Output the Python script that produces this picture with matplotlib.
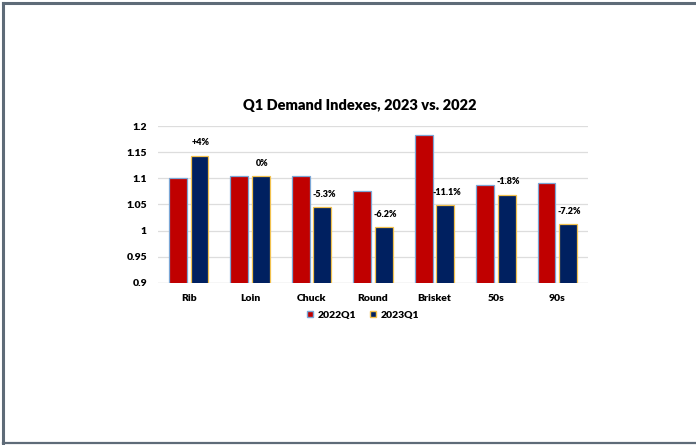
# Q1 demand indexes, 2023 vs 2022, grouped bars with change labels

import numpy as np
import matplotlib.pyplot as plt
from matplotlib.lines import Line2D

cuts = ['Rib', 'Loin', 'Chuck', 'Round', 'Brisket', '50s', '90s']
q1_2022 = [1.100, 1.105, 1.104, 1.075, 1.182, 1.088, 1.091]
q1_2023 = [1.143, 1.104, 1.045, 1.007, 1.049, 1.069, 1.013]
change_labels = ['+4%', '0%', '-5.3%', '-6.2%', '-11.1%', '-1.8%', '-7.2%']
yticks = [0.9, 0.95, 1, 1.05, 1.1, 1.15, 1.2]

plt.rcParams['font.family'] = ['Lato', 'DejaVu Sans']

fig = plt.figure(figsize=(6.96, 4.45), dpi=100)
ax = fig.add_axes([158/696, 1 - 283/445, 430/696, 157/445])

x = np.arange(len(cuts))
w = 0.29
ax.bar(x - 0.175, q1_2022, w, bottom=0, color='#C00000', edgecolor='#7BA7D6',
       linewidth=0.9, label='2022Q1', zorder=3)
ax.bar(x + 0.175, q1_2023, w, bottom=0, color='#002060', edgecolor='#F2C14E',
       linewidth=0.9, label='2023Q1', zorder=3)

for xi, v, lab in zip(x, q1_2023, change_labels):
    ax.annotate(lab, (xi + 0.2, v), xytext=(0, 6), textcoords='offset points',
                ha='center', va='bottom', fontsize=6.5, fontweight='heavy')

ax.set_ylim(0.9, 1.2)
ax.set_xlim(-0.5, len(cuts) - 0.5)
ax.set_yticks(yticks)
ax.set_yticklabels([f'{t:g}' for t in yticks], fontsize=7.5, fontweight='heavy')
ax.set_xticks(x)
ax.set_xticklabels(cuts, fontsize=7.5, fontweight='heavy')
ax.tick_params(length=0, pad=8)
ax.yaxis.grid(True, color='#DDDDDD', linewidth=0.9, zorder=0)
for s in ax.spines.values():
    s.set_visible(False)
ax.axhline(0.9, color='#D9D9D9', linewidth=0.9, zorder=1)

fig.text(360/696, 1 - 105/445, 'Q1 Demand Indexes, 2023 vs. 2022',
         ha='center', va='center', fontsize=10.5, fontweight='heavy')

handles = [Line2D([], [], marker='s', linestyle='none', markersize=5,
                  markerfacecolor='#C00000', markeredgecolor='#7BA7D6'),
           Line2D([], [], marker='s', linestyle='none', markersize=5,
                  markerfacecolor='#002060', markeredgecolor='#F2C14E')]
fig.legend(handles, ['2022Q1', '2023Q1'], loc='center', ncol=2,
           bbox_to_anchor=(362/696, 1 - 315/445), frameon=False,
           prop={'size': 7.5, 'weight': 'heavy'}, handletextpad=0.2,
           columnspacing=1.2, handlelength=1.0)

# frame around the image
frame_col = '#5E6B78'
fig.add_artist(Line2D([3/696, 3/696], [1 - 443/445, 1 - 3/445], color=frame_col,
                      linewidth=2.2, transform=fig.transFigure))
fig.add_artist(Line2D([3/696, 1], [1 - 3/445, 1 - 3/445], color=frame_col,
                      linewidth=2.2, transform=fig.transFigure))
fig.add_artist(Line2D([3/696, 1], [1 - 443/445, 1 - 443/445], color=frame_col,
                      linewidth=1.6, transform=fig.transFigure))

fig.savefig('out.png', dpi=100)
